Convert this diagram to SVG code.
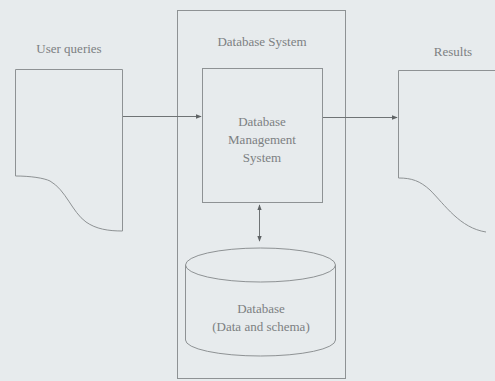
<svg xmlns="http://www.w3.org/2000/svg" width="495" height="381" viewBox="0 0 495 381">
<defs>
<style>
.bg{fill:#e7ebed}
.ln{fill:none;stroke:#8e9294;stroke-width:1}
.nf{fill:#eaeef0;stroke:#8e9294;stroke-width:1}
.tx{font-family:"Liberation Serif","Times New Roman",serif;font-size:13px;fill:#7c8082;text-anchor:middle}
.ar{fill:none;stroke:#6f7375;stroke-width:1}
</style>
<marker id="ah" viewBox="0 0 8 8" refX="7" refY="4" markerWidth="6" markerHeight="6" orient="auto-start-reverse" markerUnits="userSpaceOnUse">
<path d="M0,1 L8,4 L0,7 Z" fill="#5f6365"/>
</marker>
</defs>
<rect class="bg" x="0" y="0" width="495" height="381"/>
<g id="database-system">
<rect class="ln" x="177.5" y="10.5" width="168" height="368"/>
<text class="tx" x="262" y="46">Database System</text>
</g>
<g id="user-queries">
<path class="ln" d="M15.5,176 L15.5,69.5 L122.5,69.5 L122.5,231 C108,231 96,229 86,222 C72,212 66,190 50,181 C44,178 30,176 15.5,176 Z"/>
<text class="tx" x="69" y="53">User queries</text>
</g>
<g id="results">
<path class="ln" d="M500,70.5 L398.5,70.5 L398.5,178 C412,178 420,181 430,190 C445,205 460,228 486,232"/>
<text class="tx" x="453" y="56">Results</text>
</g>
<g id="dbms">
<rect class="ln" x="202.5" y="68.5" width="120" height="134"/>
<text class="tx" x="262" y="126">Database</text>
<text class="tx" x="262" y="144">Management</text>
<text class="tx" x="262" y="162">System</text>
</g>
<g id="database">
<path class="ln" d="M185.5,265 L185.5,340 A75,16 0 0 0 335.5,340 L335.5,265"/>
<ellipse class="ln" cx="260.5" cy="265" rx="75" ry="17"/>
<text class="tx" x="261" y="313">Database</text>
<text class="tx" x="261" y="331">(Data and schema)</text>
</g>
<g id="connectors">
<line class="ar" x1="123" y1="116.5" x2="201" y2="116.5" marker-end="url(#ah)"/>
<line class="ar" x1="323" y1="117.5" x2="397" y2="117.5" marker-end="url(#ah)"/>
<line class="ar" x1="259.5" y1="205" x2="259.5" y2="241" marker-start="url(#ah)" marker-end="url(#ah)"/>
</g>
</svg>
